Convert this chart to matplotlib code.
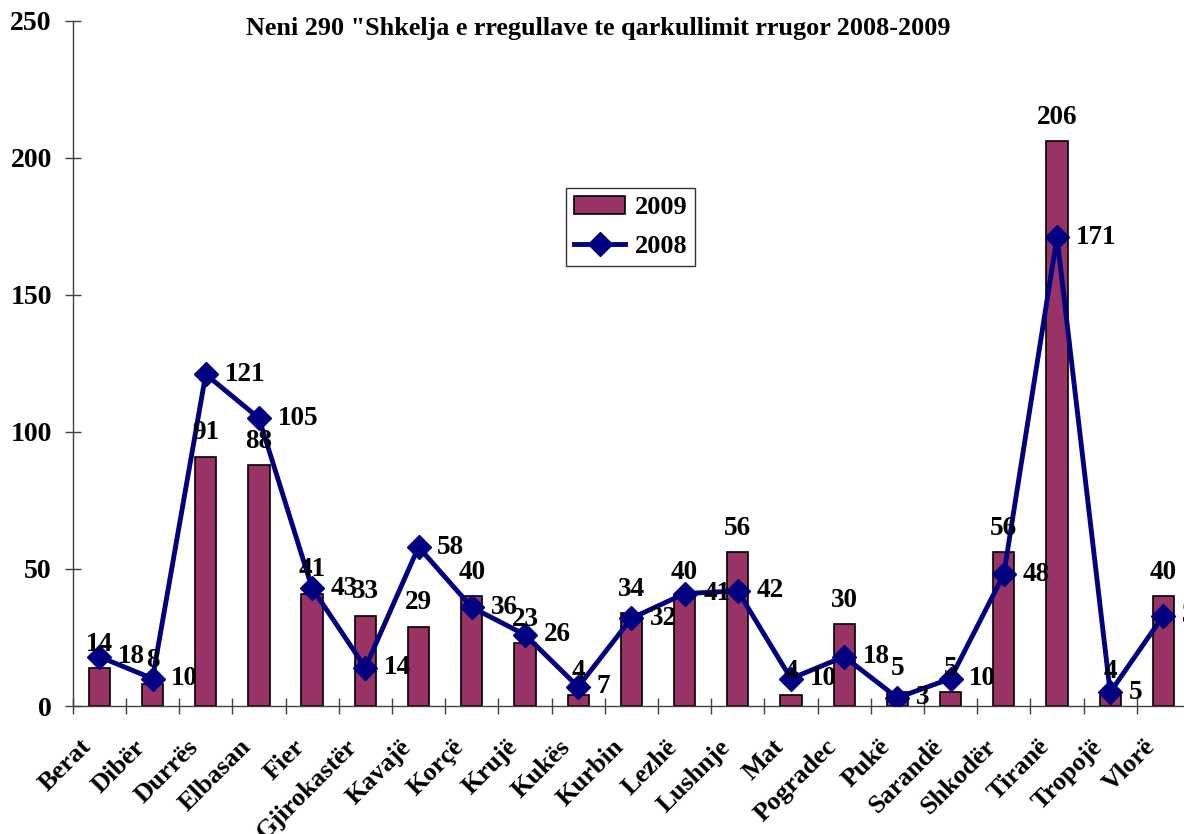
import matplotlib
matplotlib.use("Agg")
import matplotlib.pyplot as plt
import numpy as np

categories = ["Berat", "Dibër", "Durrës", "Elbasan", "Fier", "Gjirokastër", "Kavajë",
              "Korçë", "Krujë", "Kukës", "Kurbin", "Lezhë", "Lushnje", "Mat", "Pogradec",
              "Pukë", "Sarandë", "Shkodër", "Tiranë", "Tropojë", "Vlorë"]
values_2009 = [14, 8, 91, 88, 41, 33, 29, 40, 23, 4, 34, 40, 56, 4, 30, 5, 5, 56, 206, 4, 40]
values_2008 = [18, 10, 121, 105, 43, 14, 58, 36, 26, 7, 32, 41, 42, 10, 18, 3, 10, 48, 171, 5, 33]
y_ticks = [0, 50, 100, 150, 200, 250]
title = "Neni 290 \"Shkelja e rregullave te qarkullimit rrugor 2008-2009"

plt.rcParams['font.family'] = ['Liberation Serif', 'DejaVu Serif']
plt.rcParams['font.weight'] = 'bold'

W, H = 1184, 834
fig = plt.figure(figsize=(W / 100, H / 100), dpi=100)
left, right, bottom, top = 72.7, 1190, 706, 20.7
ax = fig.add_axes([left / W, (H - bottom) / H, (right - left) / W, (bottom - top) / H])

x = np.arange(len(categories))
bar_color = '#993366'
line_color = '#000080'
bars = ax.bar(x, values_2009, width=0.4, color=bar_color, edgecolor='black', linewidth=1.2,
              label='2009', zorder=2)
line, = ax.plot(x, values_2008, color=line_color, lw=3.5, marker='D', markersize=12,
                markeredgewidth=1, label='2008', zorder=3)

for xi, v in zip(x, values_2009):
    ax.annotate(str(v), (xi, v), xytext=(0, 8), textcoords='offset points',
                ha='center', va='bottom', fontsize=19.5, fontweight='bold', zorder=4)
for xi, v in zip(x, values_2008):
    ax.annotate(str(v), (xi, v), xytext=(13.5, 0), textcoords='offset points',
                ha='left', va='center', fontsize=19.5, fontweight='bold', zorder=4)

ax.set_xlim(-0.5, len(categories) - 0.5)
ax.set_ylim(0, 250)
ax.set_yticks(y_ticks)
ax.set_yticklabels([str(t) for t in y_ticks], fontsize=20, fontweight='bold')
ax.set_xticks(np.arange(len(categories) + 1) - 0.5)
ax.set_xticklabels([])
for xi, name in zip(x, categories):
    ax.annotate(name, (xi, 0), xycoords=('data', 'axes fraction'),
                xytext=(-14, -21), textcoords='offset points',
                ha='right', va='top', rotation=45, rotation_mode='anchor',
                fontsize=19, fontweight='bold', annotation_clip=False)
ax.tick_params(axis='x', which='major', direction='inout', length=12, width=1, color='#404040')
ax.tick_params(axis='y', direction='inout', length=12, width=1, color='#404040', pad=9)

for s in ['top', 'right']:
    ax.spines[s].set_visible(False)
for s in ['left', 'bottom']:
    ax.spines[s].set_color('#404040')
    ax.spines[s].set_linewidth(1)

leg = ax.legend([bars, line], ['2009', '2008'], loc='upper left',
                bbox_to_anchor=((566 - left) / (right - left), (bottom - 188) / (bottom - top)),
                borderaxespad=0, frameon=True, fancybox=False, edgecolor='black',
                handlelength=1.95, borderpad=0.3, labelspacing=0.58, handletextpad=0.35,
                prop={'weight': 'bold', 'size': 19})
leg.get_frame().set_linewidth(1)

fig.text(598 / W, (H - 29) / H, title, ha='center', va='center', fontsize=18.8, fontweight='bold')

fig.savefig('out.png', dpi=100)
